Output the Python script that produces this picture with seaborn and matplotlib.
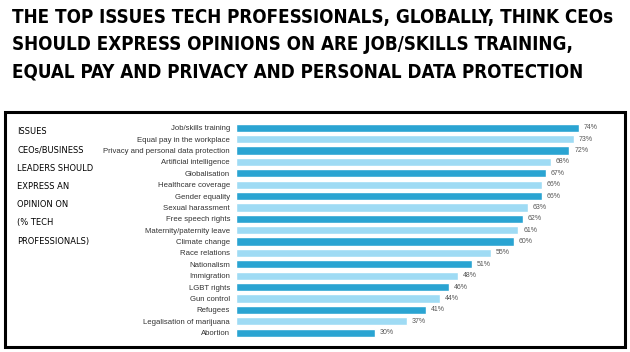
import pandas as pd
import matplotlib.pyplot as plt
import seaborn as sns
from matplotlib.patches import Rectangle

# Chart data
issues = ['Job/skills training', 'Equal pay in the workplace',
          'Privacy and personal data protection', 'Artificial intelligence',
          'Globalisation', 'Healthcare coverage', 'Gender equality',
          'Sexual harassment', 'Free speech rights', 'Maternity/paternity leave',
          'Climate change', 'Race relations', 'Nationalism', 'Immigration',
          'LGBT rights', 'Gun control', 'Refugees', 'Legalisation of marijuana',
          'Abortion']
shares = [74, 73, 72, 68, 67, 66, 66, 63, 62, 61, 60, 55, 51, 48, 46, 44, 41, 37, 30]

title_lines = ['THE TOP ISSUES TECH PROFESSIONALS, GLOBALLY, THINK CEOs',
               'SHOULD EXPRESS OPINIONS ON ARE JOB/SKILLS TRAINING,',
               'EQUAL PAY AND PRIVACY AND PERSONAL DATA PROTECTION']
side_lines = ['ISSUES', 'CEOs/BUSINESS', 'LEADERS SHOULD', 'EXPRESS AN',
              'OPINION ON', '(% TECH', 'PROFESSIONALS)']

dark_blue = '#2aa4d2'
light_blue = '#9fdbf4'

df = pd.DataFrame({'issue': issues, 'share': shares})
colors = [dark_blue if i % 2 == 0 else light_blue for i in range(len(issues))]

W, H = 630, 352
fig = plt.figure(figsize=(W / 100, H / 100), dpi=100)
sns.set_style('white')
plt.rcParams['font.family'] = ['Liberation Sans', 'DejaVu Sans']


def px(x, y):
    return x / W, 1 - y / H


# bar axes
ax = fig.add_axes([236 / W, 0.0386, 370.4 / W, 0.6148])
sns.barplot(data=df, x='share', y='issue', hue='issue', palette=colors,
            legend=False, width=0.72, saturation=1, ax=ax)
ax.set_xlim(0, 80)
ax.set_ylim(len(issues) - 0.5, -0.5)
ax.set_xlabel('')
ax.set_ylabel('')
ax.set_xticks([])
sns.despine(ax=ax, left=True, bottom=True)
ax.tick_params(axis='y', length=0, pad=4.3, labelsize=5.6, labelcolor='#333333')
for c in ax.containers:
    ax.bar_label(c, fmt='%d%%', padding=3.5, fontsize=5, color='#555555')

# frame around the chart
fig.patches.append(Rectangle(px(4.5, 347), 620.5 / W, 235.5 / H,
                             transform=fig.transFigure, fill=False,
                             edgecolor='black', linewidth=2.2))

# headline, fitted to the reference width
cond = dict(family='DejaVu Sans', fontstretch='condensed', fontweight='bold')
heads = []
for i, line in enumerate(title_lines):
    x, y = px(12, [17.5, 45, 72.5][i])
    heads.append(fig.text(x, y, line, va='center', ha='left', fontsize=20,
                          color='black', **cond))
fig.canvas.draw()
w = heads[0].get_window_extent().width
for t in heads:
    t.set_fontsize(20 * 601 / w)

# side note
side = []
for i, line in enumerate(side_lines):
    x, y = px(17, 132 + i * 18.2)
    side.append(fig.text(x, y, line, va='center', ha='left', fontsize=10,
                         color='black', family='DejaVu Sans',
                         fontstretch='condensed'))
fig.canvas.draw()
w = side[2].get_window_extent().width
for t in side:
    t.set_fontsize(10 * 76 / w)

fig.savefig('out.png', dpi=100)
